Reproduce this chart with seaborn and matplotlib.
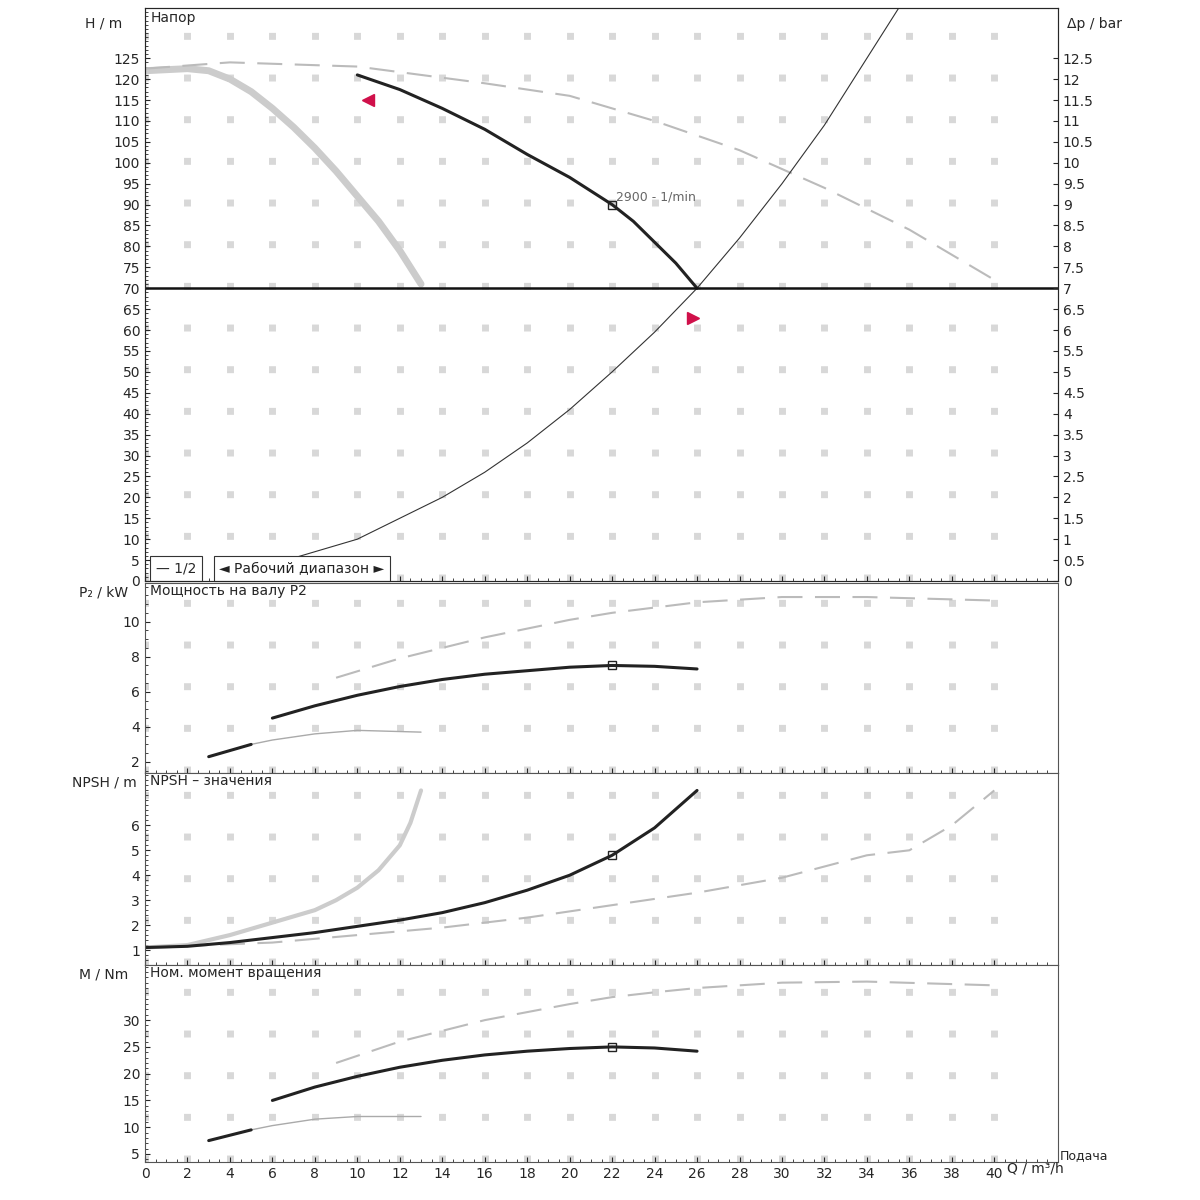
import numpy as np
import matplotlib.pyplot as plt
import seaborn as sns

sns.set_style("white")
plt.rcParams['font.family'] = ['DejaVu Sans']
plt.rcParams['font.size'] = 10

# head curves (Q m3/h, H m)
q_head = [10, 12, 14, 16, 18, 20, 22, 23, 24, 25, 26]
h_head = [121, 117.5, 113, 108, 102, 96.5, 90, 86, 81, 76, 70]
q_head_max = [0, 4, 10, 16, 20, 24, 28, 32, 36, 40]
h_head_max = [122.5, 124, 123, 119, 116, 110, 103, 94, 84, 72]
q_head_min = [0, 2, 3, 4, 5, 6, 7, 8, 9, 10, 11, 12, 13]
h_head_min = [122, 122.5, 122, 120, 117, 113, 108.5, 103.5, 98, 92, 86, 79, 71]
q_sys = [4, 6, 8, 10, 12, 14, 16, 18, 20, 22, 24, 26, 28, 30, 32, 34, 35.5]
h_sys = [0, 4, 7, 10, 15, 20, 26, 33, 41, 50, 59.5, 70, 82, 95, 109, 125, 137]

# power P2
q_p = [6, 8, 10, 12, 14, 16, 18, 20, 22, 24, 26]
p_p = [4.5, 5.2, 5.8, 6.3, 6.7, 7.0, 7.2, 7.4, 7.5, 7.45, 7.3]
q_p_max = [9, 12, 14, 16, 18, 20, 22, 24, 26, 30, 34, 40]
p_p_max = [6.8, 7.9, 8.5, 9.1, 9.6, 10.1, 10.5, 10.8, 11.1, 11.4, 11.4, 11.2]
q_p_min = [3, 5, 6, 8, 10, 13]
p_p_min = [2.3, 3.0, 3.25, 3.6, 3.8, 3.7]

# NPSH
q_n = [0, 2, 4, 6, 8, 10, 12, 14, 16, 18, 20, 22, 24, 26]
n_n = [1.1, 1.15, 1.3, 1.5, 1.7, 1.95, 2.2, 2.5, 2.9, 3.4, 4.0, 4.8, 5.9, 7.4]
q_n_min = [0, 2, 4, 6, 8, 9, 10, 11, 12, 12.5, 13]
n_n_min = [1.1, 1.2, 1.6, 2.1, 2.6, 3.0, 3.5, 4.2, 5.2, 6.1, 7.4]
q_n_max = [0, 6, 10, 14, 18, 22, 26, 30, 34, 36, 38, 40]
n_n_max = [1.1, 1.3, 1.6, 1.9, 2.3, 2.8, 3.3, 3.9, 4.8, 5.0, 6.0, 7.4]

# torque
q_m = [6, 8, 10, 12, 14, 16, 18, 20, 22, 24, 26]
m_m = [15, 17.5, 19.5, 21.2, 22.5, 23.5, 24.2, 24.7, 25, 24.8, 24.2]
q_m_max = [9, 12, 14, 16, 18, 20, 22, 24, 26, 30, 34, 40]
m_m_max = [22, 26, 28, 30, 31.5, 33, 34.3, 35.2, 36, 37, 37.2, 36.5]
q_m_min = [3, 5, 6, 8, 10, 13]
m_m_min = [7.5, 9.5, 10.3, 11.5, 12, 12]

duty_q = 22
xmax = 43

fig = plt.figure(figsize=(12, 12), dpi=100, facecolor='w')
L, R = 145/1200, 1058/1200
def mk(top, bot):
    return fig.add_axes([L, 1-bot/1200, R-L, (bot-top)/1200])
ax1 = mk(8, 581)
ax2 = mk(583, 773)
ax3 = mk(773, 965)
ax4 = mk(965, 1162)

def style(ax, ylim, yticks, ylabel, title):
    ax.set_xlim(0, xmax)
    ax.set_ylim(*ylim)
    ax.set_yticks(yticks)
    ax.set_xticks(np.arange(0, 42, 2))
    ax.grid(True, axis='x', color='#d8d8d8', linestyle=(0, (1, 5)), linewidth=5)
    ax.minorticks_on()
    ax.tick_params(which='both', direction='in', left=True, bottom=True, labelsize=10)
    ax.text(0.006, 0.995, title, transform=ax.transAxes, va='top', fontsize=10)
    ax.text(-0.045, 0.985, ylabel, transform=ax.transAxes, va='top', ha='center', fontsize=10)
    for s in ax.spines.values():
        s.set_color('#555555')

def curve(ax, x, y, **kw):
    sns.lineplot(x=x, y=y, ax=ax, legend=False, **kw)

# head panel
curve(ax1, q_head_min, h_head_min, color='#cccccc', linewidth=5)
curve(ax1, q_head_max, h_head_max, color='#bbbbbb', linewidth=1.5, dashes=(12, 6))
curve(ax1, q_sys, h_sys, color='#333333', linewidth=0.8)
curve(ax1, q_head, h_head, color='#222222', linewidth=2.2)
ax1.axhline(70, color='#111111', linewidth=1.8)
ax1.plot([duty_q], [90], 's', mfc='none', mec='#222222', ms=6)
ax1.text(duty_q + 0.2, 91, '2900 - 1/min', fontsize=9, color='#666666')
ax1.plot([10.5], [115], marker='<', color='#d0104a', ms=8)
ax1.plot([25.8], [63], marker='>', color='#d0104a', ms=8)
style(ax1, (0, 137), np.arange(0, 130, 5), 'H / m', 'Напор')
ax1.tick_params(labelbottom=False)
axr = ax1.twinx()
axr.set_ylim(0, 13.7)
axr.set_yticks(np.arange(0, 13, 0.5))
axr.set_yticklabels([f'{v:g}' for v in np.arange(0, 13, 0.5)])
axr.tick_params(direction='in', labelsize=10)
axr.text(1.04, 0.985, 'Δp / bar', transform=axr.transAxes, va='top', ha='center', fontsize=10)
ax1.text(0.5, 2, '— 1/2', fontsize=10, bbox=dict(fc='w', ec='#333333', lw=0.8))
ax1.text(3.5, 2, '◄ Рабочий диапазон ►', fontsize=10, color='#222222',
         bbox=dict(fc='w', ec='#333333', lw=0.8))

# power
curve(ax2, q_p_max, p_p_max, color='#bbbbbb', linewidth=1.5, dashes=(12, 6))
curve(ax2, q_p_min, p_p_min, color='#aaaaaa', linewidth=1)
curve(ax2, q_p_min[:2], p_p_min[:2], color='#222222', linewidth=2.2)
curve(ax2, q_p, p_p, color='#222222', linewidth=2.2)
ax2.plot([duty_q], [7.5], 's', mfc='none', mec='#222222', ms=6)
style(ax2, (1.37, 12.2), np.arange(2, 12, 2), 'P₂ / kW', 'Мощность на валу P2')
ax2.tick_params(labelbottom=False)

# NPSH
curve(ax3, q_n_min, n_n_min, color='#cccccc', linewidth=3)
curve(ax3, q_n_max, n_n_max, color='#bbbbbb', linewidth=1.5, dashes=(12, 6))
curve(ax3, q_n, n_n, color='#222222', linewidth=2.2)
ax3.plot([duty_q], [4.8], 's', mfc='none', mec='#222222', ms=6)
style(ax3, (0.4, 8.1), np.arange(1, 7, 1), 'NPSH / m', 'NPSH – значения')
ax3.tick_params(labelbottom=False)

# torque
curve(ax4, q_m_max, m_m_max, color='#bbbbbb', linewidth=1.5, dashes=(12, 6))
curve(ax4, q_m_min, m_m_min, color='#aaaaaa', linewidth=1)
curve(ax4, q_m_min[:2], m_m_min[:2], color='#222222', linewidth=2.2)
curve(ax4, q_m, m_m, color='#222222', linewidth=2.2)
ax4.plot([duty_q], [25], 's', mfc='none', mec='#222222', ms=6)
style(ax4, (3.5, 40.3), np.arange(5, 35, 5), 'M / Nm', 'Ном. момент вращения')
ax4.text(40.6, 3.5, 'Q / m³/h', ha='left', va='top', fontsize=10)
ax4.text(1.002, 0.0, 'Подача', transform=ax4.transAxes, va='bottom', fontsize=9)

fig.savefig('out.png', dpi=100, facecolor='w')
